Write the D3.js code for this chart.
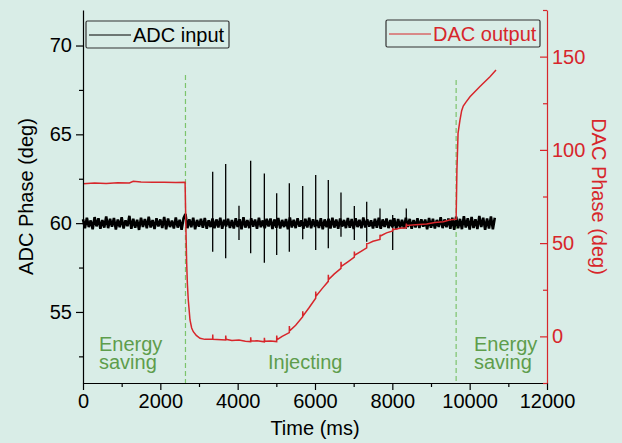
<!DOCTYPE html>
<html><head><meta charset="utf-8">
<script src="https://cdn.jsdelivr.net/npm/d3@7"></script>
<style>
body{margin:0;background:#d9ede7}
svg{display:block}
text{font-family:"Liberation Sans",Arial,sans-serif}
</style>
</head><body>
<svg id="chart" width="622" height="443"></svg>
<script>
// ---------- data ----------
const adcSampleMs = 50;
const adcValues = [
60.22,59.71,60.31,59.78,60.15,59.66,60.34,59.82,60.27,59.69,
60.18,59.75,60.38,59.72,60.24,59.80,60.29,59.64,60.20,59.77,
60.33,59.70,60.16,59.83,60.41,59.68,60.25,59.74,60.19,59.62,
60.30,59.79,60.23,59.71,60.36,59.76,60.17,59.67,60.28,59.81,
60.21,59.73,60.35,59.65,60.26,59.78,60.14,59.70,60.32,59.75,
60.19,59.63,60.27,60.52,59.72,60.22,59.77,60.30,59.66,60.18,
59.80,60.24,59.74,60.29,59.69,60.16,59.78,60.26,59.71,60.21,
59.76,60.31,59.68,60.19,59.82,60.25,59.73,60.17,59.70,60.28,
59.79,60.22,59.66,60.33,59.75,60.18,59.72,60.27,59.80,60.20,
59.69,60.30,59.77,60.15,59.71,60.24,59.81,60.26,59.67,60.21,
59.74,60.29,59.70,60.18,59.78,60.23,59.65,60.32,59.76,60.19,
59.72,60.27,59.80,60.16,59.68,60.25,59.75,60.30,59.71,60.22,
59.79,60.17,59.73,60.28,59.66,60.21,59.77,60.24,59.70,60.31,
59.75,60.20,59.69,60.26,59.81,60.18,59.72,60.29,59.74,60.23,
59.67,60.27,59.78,60.19,59.71,60.32,59.76,60.22,59.80,60.16,
59.70,60.25,59.74,60.30,59.68,60.21,59.79,60.26,59.72,60.18,
59.77,60.28,59.65,60.23,59.75,60.19,59.71,60.31,59.78,60.24,
59.69,60.17,59.76,60.27,59.73,60.22,59.80,60.20,59.66,60.29,
59.74,60.25,59.70,60.18,59.79,60.33,59.72,60.21,59.77,60.26,
59.68,60.30,59.62,60.36,59.71,60.24,59.66,60.39,59.75,60.28,
59.64,60.35,59.73,60.22,59.67,60.40,59.78,60.31,59.63,60.26,
59.70,60.37,59.66,60.30
];
const spikeTimes = [3354,3690,4034,4336,4690,5009,5336,5682,6018,6344,6672,7017,7337,7681,8009,8361];
const spikeHigh  = [62.90,63.33,60.98,63.51,62.80,61.68,62.24,62.09,62.71,62.43,61.72,60.96,61.20,60.83,60.46,60.83];
const spikeLow   = [58.39,58.02,59.05,58.30,57.77,58.20,58.39,59.09,58.49,58.58,59.24,59.05,58.95,59.73,58.49,59.67];

const dacTimes = [0,300,600,900,1200,1300,1500,1800,2100,2400,2640,2660,2680,2700,2723,2767,2810,2853,2930,3026,3150,
  3354,3355,3360,3690,3691,3700,3850,4034,4200,4336,4337,4345,4500,4690,4691,4700,4850,5009,5010,5020,5150,
  5336,5337,5345,5500,5682,5683,5690,5850,6018,6019,6025,6200,6344,6345,6350,6500,6672,6673,6680,6850,
  7017,7018,7025,7180,7337,7338,7345,7500,7681,7682,7690,7850,8009,8010,8020,8200,8361,8362,8370,8600,
  8887,9100,9318,9500,9650,9670,9700,9749,9793,9834,9900,10008,10266,10525,10681];
const dacValues = [81.8,82.2,82.0,82.4,82.3,83.2,82.8,82.6,82.7,82.5,82.6,60,40,28,19.5,8.8,4.5,2.5,0.5,-1.0,-1.6,
  -1.5,1.0,-1.5,-1.9,0.5,-1.6,-2.2,-2.0,-2.6,-2.8,-0.5,-2.5,-2.4,-2.9,-0.8,-2.6,-2.5,-2.8,0.5,-1.8,0.0,
  2.0,5.5,3.0,6.0,10.5,13.5,11.0,15.5,20.5,24.0,21.5,26.0,29.5,33.0,30.5,33.5,36.5,40.0,37.5,40.0,
  42.5,45.5,43.5,45.5,47.5,50.0,49.5,51.0,52.0,54.5,53.8,55.5,56.5,58.0,57.2,58.0,58.2,60.5,59.5,59.8,
  60.2,61.0,61.5,62.5,62.8,89,109,116,121,123.5,125.5,128.5,134,139.2,142.8];

const phaseMarks = [2650, 9650];
const regionLabels = [["Energy","saving"],["Injecting"],["Energy","saving"]];

const xTicks = [0,2000,4000,6000,8000,10000,12000];
const xMinor = [1000,3000,5000,7000,9000,11000];
const yLeftTicks = [55,60,65,70];
const yLeftMinor = [52.5,57.5,62.5,67.5];
const yRightTicks = [0,50,100,150];
const yRightMinor = [-25,25,75,125,175];

// ---------- drawing ----------
const RED = "#d7262b", GREEN_TXT = "#5e9d4c", GREEN_LN = "#7cc46c";
const svg = d3.select("#chart");
const L = 83, R = 547, T = 10, B = 383;
const x = d3.scaleLinear().domain([0,12000]).range([L,R]);
const yL = d3.scaleLinear().domain([51,72]).range([B,T]);
const yR = d3.scaleLinear().domain([-25,175]).range([B,T]);

svg.append("rect").attr("width",622).attr("height",443).attr("fill","#d9ede7");

// green dashed phase markers
svg.selectAll(".mark").data(phaseMarks).enter().append("line")
  .attr("x1",d=>x(d)).attr("x2",d=>x(d))
  .attr("y1",(d,i)=>i===0?75:80).attr("y2",B)
  .attr("stroke",GREEN_LN).attr("stroke-width",1.2).attr("stroke-dasharray","5,3");

// ADC series: noisy trace + injection spikes
const adcPts = adcValues.map((v,i)=>[i*adcSampleMs, v]);
svg.append("path").datum(adcPts)
  .attr("d",d3.line().x(d=>x(d[0])).y(d=>yL(d[1])))
  .attr("fill","none").attr("stroke","#000").attr("stroke-width",2.6).attr("stroke-linejoin","bevel");
svg.selectAll(".spike").data(spikeTimes).enter().append("line")
  .attr("x1",d=>x(d)).attr("x2",d=>x(d))
  .attr("y1",(d,i)=>yL(spikeHigh[i])).attr("y2",(d,i)=>yL(spikeLow[i]))
  .attr("stroke","#000").attr("stroke-width",1.3);

// DAC series
const dacPts = dacTimes.map((t,i)=>[t,dacValues[i]]);
svg.append("path").datum(dacPts)
  .attr("d",d3.line().x(d=>x(d[0])).y(d=>yR(d[1])))
  .attr("fill","none").attr("stroke",RED).attr("stroke-width",1.5);

// region labels
const lblX = [99, 268, 474];
regionLabels.forEach((lines,i)=>{
  const t = svg.append("text").attr("x",lblX[i]).attr("y", lines.length===2?351:369)
    .attr("fill",GREEN_TXT).style("font-size","20px");
  lines.forEach((s,j)=>t.append("tspan").attr("x",lblX[i]).attr("dy",j===0?0:18).text(s));
});

// axes
function styleAxis(g,color){
  g.selectAll("path,line").attr("stroke",color).attr("stroke-width",1.2);
  g.selectAll("text").attr("fill",color).style("font-size","20px").style("font-family",'"Liberation Sans",Arial,sans-serif');
}
const gx = svg.append("g").attr("transform",`translate(0,${B})`)
  .call(d3.axisBottom(x).tickValues(xTicks).tickFormat(d3.format("d")).tickSizeInner(7).tickSizeOuter(0).tickPadding(4));
styleAxis(gx,"#000");
const gxm = svg.append("g").attr("transform",`translate(0,${B})`)
  .call(d3.axisBottom(x).tickValues(xMinor).tickFormat("").tickSizeInner(4).tickSizeOuter(0));
gxm.select(".domain").remove(); styleAxis(gxm,"#000");

const gl = svg.append("g").attr("transform",`translate(${L},0)`)
  .call(d3.axisLeft(yL).tickValues(yLeftTicks).tickFormat(d3.format("d")).tickSizeInner(7).tickSizeOuter(0).tickPadding(4));
styleAxis(gl,"#000");
const glm = svg.append("g").attr("transform",`translate(${L},0)`)
  .call(d3.axisLeft(yL).tickValues(yLeftMinor).tickFormat("").tickSizeInner(4).tickSizeOuter(0));
glm.select(".domain").remove(); styleAxis(glm,"#000");

const gr = svg.append("g").attr("transform",`translate(${R},0)`)
  .call(d3.axisRight(yR).tickValues(yRightTicks).tickFormat(d3.format("d")).tickSizeInner(-7).tickSizeOuter(0).tickPadding(5));
styleAxis(gr,RED);
const grm = svg.append("g").attr("transform",`translate(${R},0)`)
  .call(d3.axisRight(yR).tickValues(yRightMinor).tickFormat("").tickSizeInner(-4).tickSizeOuter(0));
grm.select(".domain").remove(); styleAxis(grm,RED);

// axis titles
svg.append("text").attr("transform",`translate(33,${(T+B)/2}) rotate(-90)`)
  .attr("text-anchor","middle").style("font-size","20px").attr("fill","#000").text("ADC Phase (deg)");
svg.append("text").attr("transform",`translate(592,${(T+B)/2}) rotate(90)`)
  .attr("text-anchor","middle").style("font-size","20px").attr("fill",RED).text("DAC Phase (deg)");
svg.append("text").attr("x",(L+R)/2).attr("y",435)
  .attr("text-anchor","middle").style("font-size","20px").attr("fill","#000").text("Time (ms)");

// legends
function legend(x0,y0,w,color,label){
  svg.append("rect").attr("x",x0).attr("y",y0).attr("width",w).attr("height",27).attr("rx",1.5)
    .attr("fill","none").attr("stroke","#333").attr("stroke-width",1.2);
  svg.append("line").attr("x1",x0+3).attr("x2",x0+45).attr("y1",y0+14).attr("y2",y0+14)
    .attr("stroke",color).attr("stroke-width",1);
  svg.append("text").attr("x",x0+47).attr("y",y0+21).attr("fill",color).style("font-size","20px").text(label);
}
legend(86,21,143,"#000","ADC input");
legend(386,20,154,RED,"DAC output");
</script>
</body></html>
